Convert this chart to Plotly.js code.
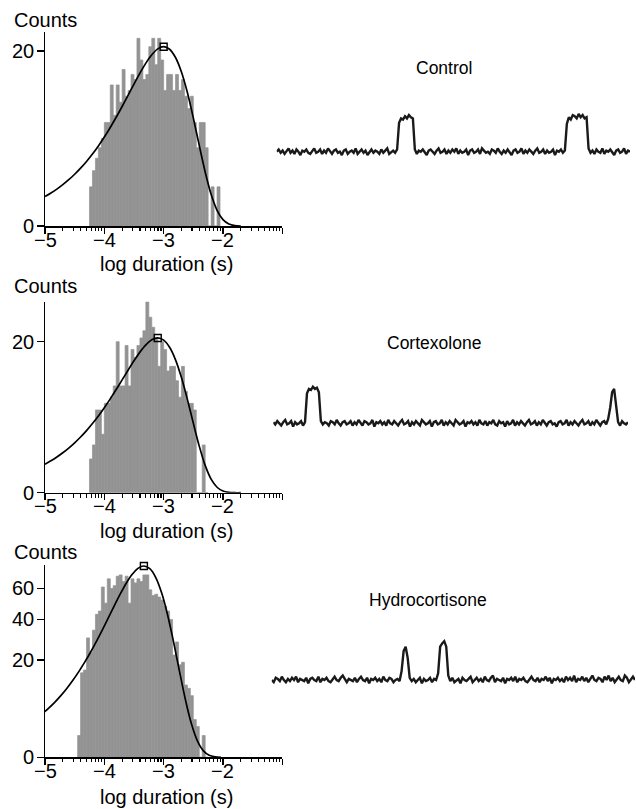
<!DOCTYPE html>
<html><head><meta charset="utf-8">
<script src="https://cdn.plot.ly/plotly-3.0.1.min.js"></script>
<style>html,body{margin:0;padding:0;background:#fff;}#chart{width:636px;height:809px;}</style>
</head><body><div id="chart"></div>
<script>
// ---------- data ----------
const binWidth = 0.05;
const binStarts = [-4.25, -4.25, -4.45];            // log10(s) left edge of first bin
const countsControl = [1,2,3,4,5,7,7,13,8,13,10,16,11,12,15,14,23,18,14,15,21,23,17,23,18,12,15,15,12,15,12,14,11,9,11,7,4,7,7,4,0,1,0,1];
const countsCortexolone = [1,2,6,6,3,7,7,8,10,20,10,10,19,10,18,16,19,21,23,32,27,24,21,14,20,18,13,14,14,11,8,14,9,7,7,6,0,0,2,0];
const countsHydrocortisone = [1,15,16,30,23,34,43,45,61,50,67,60,62,69,70,65,69,50,67,64,67,65,70,70,59,55,56,54,52,48,45,40,22,28,18,19,11,10,8,3,2,0,1,0];

// fitted exponential component (counts)
const fitX12 = [-5.0,-4.9,-4.8,-4.7,-4.6,-4.5,-4.4,-4.3,-4.2,-4.1,-4.0,-3.9,-3.8,-3.7,-3.6,-3.5,-3.4,-3.3,-3.2,-3.1,-3.0,-2.9,-2.8,-2.7,-2.6,-2.5,-2.4,-2.3,-2.2,-2.1,-2.0,-1.9,-1.8,-1.7];
const fitControl = [0.565,0.710,0.890,1.116,1.398,1.749,2.184,2.721,3.381,4.188,5.165,6.336,7.720,9.329,11.152,13.157,15.261,17.330,19.163,20.488,21,20.406,18.541,15.486,11.628,7.639,4.241,1.903,0.654,0.161,0.026,0.0024,0.0001,0];
const fitCortexolone = [0.710,0.890,1.116,1.398,1.749,2.184,2.721,3.381,4.188,5.165,6.336,7.720,9.329,11.152,13.157,15.261,17.330,19.163,20.488,21,20.406,18.541,15.486,11.628,7.639,4.241,1.903,0.654,0.161,0.026,0.0024,0.0001,0,0];
const fitX3 = [-5.033,-4.933,-4.833,-4.733,-4.633,-4.533,-4.433,-4.333,-4.233,-4.133,-4.033,-3.933,-3.833,-3.733,-3.633,-3.533,-3.433,-3.333,-3.233,-3.133,-3.033,-2.933,-2.833,-2.733,-2.633,-2.533,-2.433,-2.333,-2.233,-2.133,-2.033];
const fitHydrocortisone = [4.093,5.127,6.413,8.006,9.976,12.398,15.355,18.937,23.231,28.308,34.205,40.892,48.241,55.956,63.545,70.266,75.124,77,74.822,67.985,56.783,42.635,28.008,15.550,6.979,2.399,0.590,0.095,0.0089,0.0005,0];
const tauLog = [-3.0, -3.1, -3.333];
const tauPeak = [21, 21, 77];

// x axis tick labels / y ticks (counts)
const xTickVals = [-5,-4,-3,-2,-1];
const xTickText = ['\u22125','\u22124','\u22123','\u22122',''];
const yTicks = [[0,20],[0,20],[0,20,40,60]];
const yMaxCounts = [24.58, 31.99, 77.8];

// single channel current records (arbitrary units: closed = 0, open ≈ 30)
const traceControl = [
0,2,-1,1,-2,0,3,-1,1,-2,2,0,-3,1,0,2,-1,-2,1,3,
-1,0,2,-2,1,-1,3,0,-2,1,2,-1,0,-3,1,2,-2,0,1,-1,
3,-2,0,2,-1,1,-3,0,2,-1,1,0,-2,2,-1,1,3,-2,0,1,
-1,2,26,30,29,32,30,33,31,30,2,-2,1,0,2,-1,-3,1,2,0,
-2,1,3,-1,0,2,-2,1,-1,2,0,3,-2,1,-1,0,2,-3,1,2,
-1,0,2,-2,3,1,-1,0,-2,2,1,-1,3,0,-2,1,-1,2,0,-3,
1,2,-1,0,3,-2,1,-1,2,0,-2,1,3,-1,0,2,-2,1,-1,0,
2,-3,1,0,2,-1,1,25,31,29,33,32,30,34,31,33,30,31,3,-1,
1,-2,2,0,-1,3,-2,1,0,2,-1,-3,1,2,-1,0,3,-2,1,0];
const traceCortexolone = [
1,-1,2,0,-2,1,3,-1,0,2,-3,1,-1,0,2,-2,1,27,31,30,
33,31,32,28,2,-1,1,0,-2,2,1,-1,3,0,-2,1,2,-1,0,2,
-2,1,-1,3,0,-2,2,1,-1,0,3,-3,1,0,2,-1,1,-2,3,0,
-1,2,0,-2,1,3,-1,0,2,-3,1,-1,2,0,-2,3,1,-1,0,2,
-3,1,2,-1,0,3,-2,1,-1,2,0,-2,3,1,-1,0,2,-3,1,0,
2,-1,1,-2,3,0,-1,2,-2,1,0,3,-1,-2,2,0,1,-3,2,-1,
0,3,-2,1,-1,2,0,-2,1,3,-1,0,2,-2,1,-1,3,0,-2,1,
2,-1,0,-3,1,2,-1,0,3,-2,1,-1,2,0,-2,1,3,-1,0,2,
-2,1,-1,3,0,-2,1,2,-1,4,14,28,31,18,1,-2,2,0,-1,1];
const traceHydrocortisone = [
0,-2,2,1,-1,3,0,-2,1,-1,2,0,3,-2,1,0,-1,2,-3,1,
2,0,-1,3,-2,1,0,2,-1,-2,1,3,0,-1,2,4,1,-2,1,0,
-1,2,-2,1,3,0,-1,2,-3,1,0,2,-1,1,-2,3,0,-1,2,1,
-2,0,1,-1,8,26,30,20,2,-1,1,-2,0,2,-3,1,-1,0,2,-2,
1,0,6,30,33,35,30,4,-1,2,-2,0,1,-3,2,0,-1,1,3,-2,
0,2,-1,1,-2,3,0,-1,2,4,-2,1,0,-1,2,-3,1,0,2,-1,
3,-2,1,0,2,-1,-2,1,3,0,-1,2,-2,1,0,3,-1,2,-3,1,
0,2,-1,1,-2,3,0,2,-1,4,-2,1,0,3,-1,2,-2,1,4,0,
-1,2,1,-2,3,0,4,-1,2,-2,1,3,0,-1,4,2,-2,1,3,0];
const conditions = ['Control','Cortexolone','Hydrocortisone'];

// ---------- layout helpers ----------
const W = 636, H = 809;
const fx = p => p / W;
const fy = p => 1 - p / H;
const FONT = 'Liberation Sans, Arial, Helvetica, sans-serif';
const BAR = '#939393';

const histCounts = [countsControl, countsCortexolone, countsHydrocortisone];
const fitXs = [fitX12, fitX12, fitX3];
const fitYs = [fitControl, fitCortexolone, fitHydrocortisone];
const records = [traceControl, traceCortexolone, traceHydrocortisone];

// pixel geometry of panels (top of y axis, zero line)
const histTop = [32, 301.7, 565];
const histZero = [226, 492.7, 757.3];
const recX = [[276.7, 630], [273.3, 628], [271.7, 635]];
const recY = [[90, 180], [360, 450], [620, 710]];   // top, bottom pixels
const recBase = [151.7, 423.3, 680];
const recUnit = 1.11; // px per unit

const minorVals = [];
[-5,-4,-3,-2].forEach(d => { for (let k = 2; k <= 9; k++) minorVals.push(d + Math.log10(k)); });

const data = [];
const layout = {
  width: W, height: H, margin: {l:0, r:0, t:0, b:0},
  paper_bgcolor: '#fff', plot_bgcolor: 'rgba(0,0,0,0)',
  showlegend: false, barmode: 'overlay',
  font: {family: FONT, color: '#000', size: 20},
  annotations: []
};
const tf = {family: FONT, size: 20, color: '#000'};

for (let p = 0; p < 3; p++) {
  const n = p + 1;
  const xa = 'x' + (n === 1 ? '' : n), ya = 'y' + (n === 1 ? '' : n);
  const counts = histCounts[p];
  data.push({
    type: 'bar', xaxis: xa, yaxis: ya,
    x: counts.map((c, i) => binStarts[p] + (i + 0.5) * binWidth),
    y: counts.map(c => Math.sqrt(c)),
    width: binWidth, marker: {color: BAR, line: {width: 0.7, color: BAR}}, hoverinfo: 'skip'
  });
  data.push({
    type: 'scatter', mode: 'lines', xaxis: xa, yaxis: ya,
    x: fitXs[p], y: fitYs[p].map(v => Math.sqrt(v)),
    line: {color: '#000', width: 1.7, shape: 'spline', smoothing: 0.8}, hoverinfo: 'skip'
  });
  data.push({
    type: 'scatter', mode: 'markers', xaxis: xa, yaxis: ya, cliponaxis: false,
    x: [tauLog[p]], y: [Math.sqrt(tauPeak[p])],
    marker: {symbol: 'square-open', size: 7, color: '#000', line: {width: 1.4, color: '#000'}}, hoverinfo: 'skip'
  });
  const yTop = Math.sqrt(yMaxCounts[p]);
  layout['xaxis' + (n === 1 ? '' : n)] = {
    domain: [fx(45), fx(282.3)], range: [-5, -1], anchor: ya,
    showline: true, linecolor: '#000', linewidth: 1.5, showgrid: false, zeroline: false,
    ticks: 'outside', ticklen: 6, tickwidth: 1.5, tickcolor: '#000',
    tickmode: 'array', tickvals: xTickVals, showticklabels: false,
    minor: {tickmode: 'array', tickvals: minorVals, ticks: 'outside', ticklen: 3.5, tickwidth: 1.2, tickcolor: '#000', showgrid: false},
    fixedrange: true
  };
  layout['yaxis' + (n === 1 ? '' : n)] = {
    domain: [fy(histZero[p]), fy(histTop[p])], range: [0, yTop], anchor: xa,
    showline: true, linecolor: '#000', linewidth: 1.5, showgrid: false, zeroline: false,
    ticks: 'outside', ticklen: 7, tickwidth: 1.5, tickcolor: '#000',
    tickmode: 'array', tickvals: yTicks[p].map(v => Math.sqrt(v)), showticklabels: false,
    fixedrange: true
  };
  // tick labels
  xTickVals.forEach((v, i) => {
    if (!xTickText[i]) return;
    layout.annotations.push({xref: xa, yref: 'paper', x: v, y: fy(histZero[p] + 13.5), xanchor: 'center', yanchor: 'middle',
      text: xTickText[i], showarrow: false, font: tf});
  });
  yTicks[p].forEach(v => {
    layout.annotations.push({xref: 'paper', yref: ya, x: fx(36), y: Math.sqrt(v), xanchor: 'right', yanchor: 'middle',
      text: String(v), showarrow: false, font: tf});
  });

  // records
  const m = p + 4;
  const rec = records[p];
  const top = recY[p][0], bot = recY[p][1];
  data.push({
    type: 'scatter', mode: 'lines', xaxis: 'x' + m, yaxis: 'y' + m,
    x: rec.map((v, i) => i), y: rec,
    line: {color: '#1a1a1a', width: 2.4}, hoverinfo: 'skip'
  });
  layout['xaxis' + m] = {domain: [fx(recX[p][0]), fx(recX[p][1])], range: [0, rec.length - 1], visible: false, anchor: 'y' + m, fixedrange: true};
  layout['yaxis' + m] = {domain: [fy(bot), fy(top)], range: [(recBase[p] - bot) / recUnit, (recBase[p] - top) / recUnit], visible: false, anchor: 'x' + m, fixedrange: true};
}

// text annotations
const countsY = [20.5, 285.5, 551.5];
const titleY = [263.5, 530.5, 797];
const condPos = [[444, 68], [434, 343], [428, 600]];
for (let p = 0; p < 3; p++) {
  layout.annotations.push({xref: 'paper', yref: 'paper', x: fx(12), y: fy(countsY[p]), xanchor: 'left', yanchor: 'middle',
    text: 'Counts', showarrow: false, font: tf});
  layout.annotations.push({xref: 'paper', yref: 'paper', x: fx(166), y: fy(titleY[p]), xanchor: 'center', yanchor: 'middle',
    text: 'log duration (s)', showarrow: false, font: tf});
  layout.annotations.push({xref: 'paper', yref: 'paper', x: fx(condPos[p][0]), y: fy(condPos[p][1]), xanchor: 'center', yanchor: 'middle',
    text: conditions[p], showarrow: false, font: {family: FONT, size: 17.5, color: '#000'}});
}

Plotly.newPlot('chart', data, layout, {displayModeBar: false, staticPlot: true});
</script></body></html>
